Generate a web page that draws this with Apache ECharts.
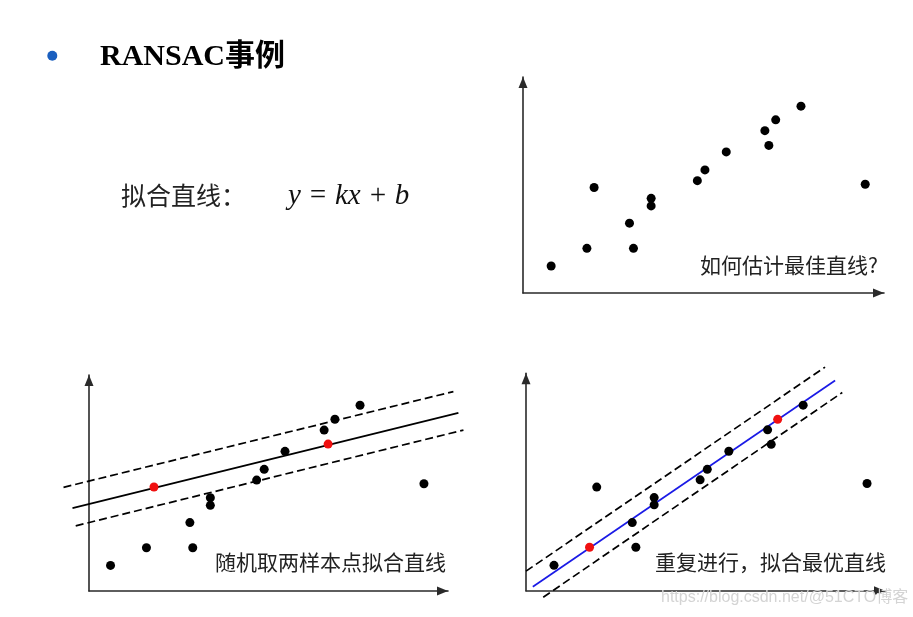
<!DOCTYPE html>
<html>
<head>
<meta charset="utf-8">
<script src="https://cdn.jsdelivr.net/npm/echarts@6/dist/echarts.min.js"></script>
<style>
html,body{margin:0;padding:0;background:#fff;}
#chart{width:913px;height:617px;}
</style>
</head>
<body>
<div id="chart"></div>
<script>
// Panel 1: raw data
const p1Points = [[0.78,0.75],[1.77,1.24],[1.97,2.93],[2.95,1.94],[3.06,1.24],[3.55,2.63],[3.55,2.42],[4.83,3.12],[5.04,3.42],[5.63,3.92],[6.70,4.51],[6.81,4.10],[7.00,4.81],[7.70,5.19],[9.48,3.02]];
// Panel 2: random two samples
const p2Points = [[0.60,0.71],[1.60,1.20],[2.81,1.90],[2.89,1.20],[3.38,2.59],[3.38,2.38],[4.67,3.08],[4.88,3.38],[5.46,3.88],[6.55,4.47],[6.85,4.77],[7.55,5.16],[9.33,2.98]];
const p2Samples = [[1.81,2.89],[6.66,4.08]];
const p2Fit = [[-0.46,2.30],[10.29,4.95]];
const p2Upper = [[-0.71,2.88],[10.15,5.54]];
const p2Lower = [[-0.37,1.81],[10.43,4.47]];
// Panel 3: best fit
const p3Points = [[0.78,0.70],[1.97,2.86],[2.96,1.88],[3.06,1.20],[3.57,2.57],[3.57,2.37],[4.85,3.06],[5.05,3.35],[5.65,3.85],[6.73,4.44],[6.83,4.04],[7.72,5.12],[9.50,2.96]];
const p3Samples = [[1.77,1.20],[7.01,4.73]];
const p3Fit = [[0.19,0.11],[8.61,5.80]];
const p3Upper = [[0.00,0.54],[8.33,6.17]];
const p3Lower = [[0.48,-0.18],[8.81,5.47]];

const titleText = 'RANSAC事例';
const eqLabel = '拟合直线：';
const eqMath = 'y = kx + b';
const p1Label = '如何估计最佳直线?';
const p2Label = '随机取两样本点拟合直线';
const p3Label = '重复进行，拟合最优直线';
const watermark = 'https://blog.csdn.net/@51CTO博客';

const cjk = "'Noto Sans CJK SC', 'Noto Sans', sans-serif";

function axisX(idx, min, max, show){
  return {type:'value', gridIndex:idx, min:min, max:max, show:show,
    axisLine:{show:true, onZero:false, symbol:['none','triangle'], symbolSize:[9,11], symbolOffset:[0,-5.5], lineStyle:{color:'#2a2a2a', width:1.6}},
    axisTick:{show:false}, axisLabel:{show:false}, splitLine:{show:false}};
}
function axisY(idx, show){
  return {type:'value', gridIndex:idx, min:0, max:6, show:show,
    axisLine:{show:true, onZero:false, symbol:['none','triangle'], symbolSize:[9,11], symbolOffset:[0,-5.5], lineStyle:{color:'#2a2a2a', width:1.6}},
    axisTick:{show:false}, axisLabel:{show:false}, splitLine:{show:false}};
}
function dots(idx, data, color){
  return {type:'scatter', xAxisIndex:idx, yAxisIndex:idx, data:data, symbolSize:9, itemStyle:{color:color, opacity:1}, silent:true, z:5};
}
function seg(idx, data, color, dashed){
  return {type:'line', xAxisIndex:idx, yAxisIndex:idx, data:data, showSymbol:false, symbol:'none', clip:false, silent:true, z:3,
    lineStyle:{color:color, width:1.7, type: dashed ? [8,4] : 'solid'}};
}

const chart = echarts.init(document.getElementById('chart'), null, {renderer:'canvas'});
chart.setOption({
  animation:false,
  backgroundColor:'#fff',
  grid:[
    {left:523, top:77, width:361, height:216},
    {left:89, top:375, width:359, height:216},
    {left:526, top:373.3, width:359, height:217.4},
    // wider helper grid for panel 2 lines (same scale as panel 2, x from -1 to 11)
    {left:53.1, top:375, width:430.8, height:216}
  ],
  xAxis:[axisX(0,0,10,true), axisX(1,0,10,true), axisX(2,0,10,true), axisX(3,-1,11,false)],
  yAxis:[axisY(0,true), axisY(1,true), axisY(2,true), axisY(3,false)],
  series:[
    dots(0, p1Points, '#000'),
    seg(3, p2Fit, '#000', false),
    seg(3, p2Upper, '#000', true),
    seg(3, p2Lower, '#000', true),
    dots(1, p2Points, '#000'),
    dots(1, p2Samples, '#f01010'),
    seg(2, p3Fit, '#1a1ae6', false),
    seg(2, p3Upper, '#000', true),
    seg(2, p3Lower, '#000', true),
    dots(2, p3Points, '#000'),
    dots(2, p3Samples, '#f01010')
  ],
  graphic:[
    {type:'circle', shape:{cx:52.3, cy:55.7, r:5}, style:{fill:'#1a5fbf'}},
    {type:'text', style:{text:titleText, x:100, y:57, font:"bold 30px 'Liberation Serif', 'Noto Sans CJK SC', serif", fill:'#000', textAlign:'left', textVerticalAlign:'middle'}},
    {type:'text', style:{text:eqLabel, x:121, y:195, font:"25px " + cjk, fill:'#222', textAlign:'left', textVerticalAlign:'middle'}},
    {type:'text', style:{text:eqMath, x:288, y:196, font:"italic 29px 'Liberation Serif', serif", fill:'#111', textAlign:'left', textVerticalAlign:'middle'}},
    {type:'text', style:{text:p1Label, x:700, y:265, font:"21px " + cjk, fill:'#222', textAlign:'left', textVerticalAlign:'middle'}},
    {type:'text', style:{text:p2Label, x:215, y:562, font:"21px " + cjk, fill:'#222', textAlign:'left', textVerticalAlign:'middle'}},
    {type:'text', style:{text:p3Label, x:655, y:562, font:"21px " + cjk, fill:'#222', textAlign:'left', textVerticalAlign:'middle'}},
    {type:'text', style:{text:watermark, x:661, y:598, font:"16px 'Liberation Sans', 'Noto Sans CJK SC', sans-serif", fill:'#d4d4d4', textAlign:'left', textVerticalAlign:'middle'}, z:10}
  ]
});
</script>
</body>
</html>
